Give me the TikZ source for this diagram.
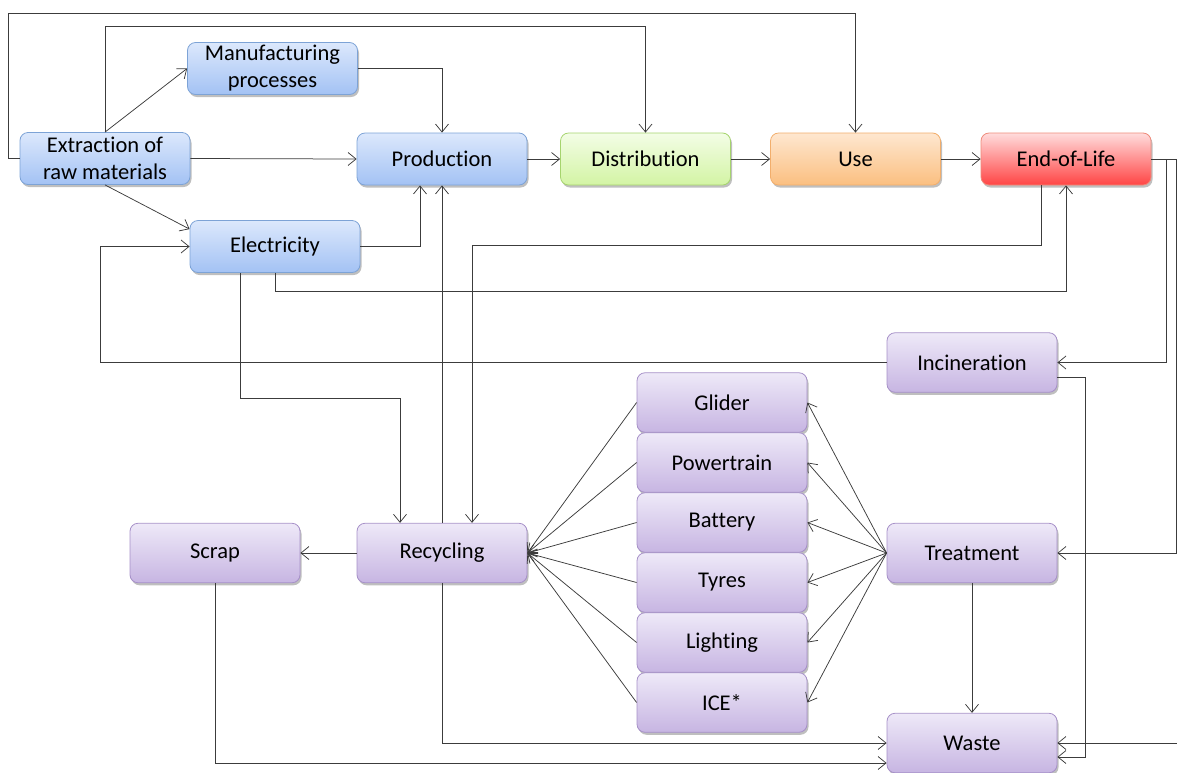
\documentclass[tikz,border=0pt]{standalone}
\usepackage{fontspec}
\setmainfont[Ligatures=NoCommon]{Carlito}
\usetikzlibrary{arrows.meta,calc,shadows}

\definecolor{blueTop}{HTML}{DCE8FC}
\definecolor{blueBot}{HTML}{A3C2F4}
\definecolor{blueLine}{HTML}{7DA3D6}
\definecolor{greenTop}{HTML}{F3FDE6}
\definecolor{greenBot}{HTML}{D3F4A4}
\definecolor{greenLine}{HTML}{A6D46E}
\definecolor{orangeTop}{HTML}{FEE7D0}
\definecolor{orangeBot}{HTML}{FBBF80}
\definecolor{orangeLine}{HTML}{F2AE6C}
\definecolor{redTop}{HTML}{FFDCDC}
\definecolor{redBot}{HTML}{FF4545}
\definecolor{redLine}{HTML}{EE8A7A}
\definecolor{lilacTop}{HTML}{EEE9F8}
\definecolor{lilacBot}{HTML}{C7B5E2}
\definecolor{lilacLine}{HTML}{A690C8}
\definecolor{wire}{HTML}{3C3C3C}

\tikzset{
  box/.style={rounded corners=8pt, minimum width=170pt, inner sep=0pt,
    align=center, font=\fontsize{22.5}{27}\selectfont, line width=0.8pt,
    shading=axis, shading angle=0,
    drop shadow={shadow xshift=1.5pt, shadow yshift=-2.5pt, opacity=0.25, fill=black}},
  bluebox/.style={box, minimum height=52pt, top color=blueTop, bottom color=blueBot, draw=blueLine},
  greenbox/.style={box, minimum height=52pt, top color=greenTop, bottom color=greenBot, draw=greenLine},
  orangebox/.style={box, minimum height=52pt, top color=orangeTop, bottom color=orangeBot, draw=orangeLine},
  redbox/.style={box, minimum height=52pt, top color=redTop, bottom color=redBot, draw=redLine},
  lilacbox/.style={box, minimum height=59.5pt, top color=lilacTop, bottom color=lilacBot, draw=lilacLine},
  arr/.style={draw=wire, line width=0.75pt, -{Straight Barb[length=8pt,width=13pt,line width=0.75pt]}},
}

\begin{document}
\begin{tikzpicture}[x=1pt,y=-1pt]
\useasboundingbox (0,0) rectangle (1177,772);

% upper chain
\node[bluebox]   (ext)  at (105,158.5) {Extraction of\\raw materials};
\node[bluebox]   (man)  at (272.5,68.5) {Manufacturing\\processes};
\node[bluebox]   (ele)  at (275,246.5) {Electricity};
\node[bluebox]   (prod) at (442,159) {Production};
\node[greenbox]  (dist) at (645.5,159) {Distribution};
\node[orangebox] (use)  at (855.5,159) {Use};
\node[redbox]    (eol)  at (1066,159) {End-of-Life};

% end-of-life routes
\node[lilacbox] (inc) at (972,362.5) {Incineration};
\node[lilacbox] (tre) at (972,553) {Treatment};
\node[lilacbox] (was) at (972,743) {Waste};
\node[lilacbox] (rec) at (442,553) {Recycling};
\node[lilacbox] (scr) at (215,553) {Scrap};

% vehicle components
\node[lilacbox] (gli) at (722,402.5) {Glider};
\node[lilacbox] (pow) at (722,462.5) {Powertrain};
\node[lilacbox] (bat) at (722,522.5) {Battery};
\node[lilacbox] (tyr) at (722,582.5) {Tyres};
\node[lilacbox] (lig) at (722,642.5) {Lighting};
\node[lilacbox] (ice) at (722,702.5) {ICE*};

\coordinate (inflow) at (1177,743);

% raw materials
\draw[arr] (ext.west) -- (8,158.5) |- (855.5,13) -- (use.north);
\draw[arr] (ext.north) -- (105,26) -| (dist.north);
\draw[arr] (ext.north) -- (man.west);
\draw[arr] (ext.south) -- ($(ele.north west)+(0,9)$);
\draw[arr] (ext.east) -- (prod.west);

% into production
\draw[arr] (man.east) -| (prod.north);
\draw[arr] (ele.east) -| ($(prod.south)+(-22,0)$);
\draw[arr] (rec.north) -- (prod.south);

% life cycle
\draw[arr] (prod.east) -- (dist.west);
\draw[arr] (dist.east) -- (use.west);
\draw[arr] (use.east) -- (eol.west);

% electricity and returns
\draw[arr] ($(eol.south)+(-25,0)$) -- (1041,245) -| ($(rec.north)+(30,0)$);
\draw[arr] (ele.south) -- (275,291) -| (eol.south);
\draw[arr] ($(ele.south)+(-35,0)$) -- (240,398) -| ($(rec.north)+(-42,0)$);
\draw[arr] (inc.west) -- (100,362.5) |- (ele.west);

% end-of-life split
\draw[arr] (eol.east) -- (1166,159) |- (inc.east);
\draw[arr] (eol.east) -- (1176,159) |- (tre.east);
\draw[arr] ($(inc.east)+(0,15)$) -- (1085,377.5) |- ($(was.east)+(0,14)$);
\draw[arr] (inflow) -- (was.east);
\draw[arr] (tre.south) -- (was.north);

% components
\foreach \c in {gli,pow,bat,tyr,lig,ice}{
  \draw[arr] (tre.west) -- (\c.east);
  \draw[arr] (\c.west) -- (rec.east);
}

% recycling outputs
\draw[arr] (rec.west) -- (scr.east);
\draw[arr] (rec.south) |- (was.west);
\draw[arr] (scr.south) |- ($(was.west)+(0,20)$);
\end{tikzpicture}
\end{document}
